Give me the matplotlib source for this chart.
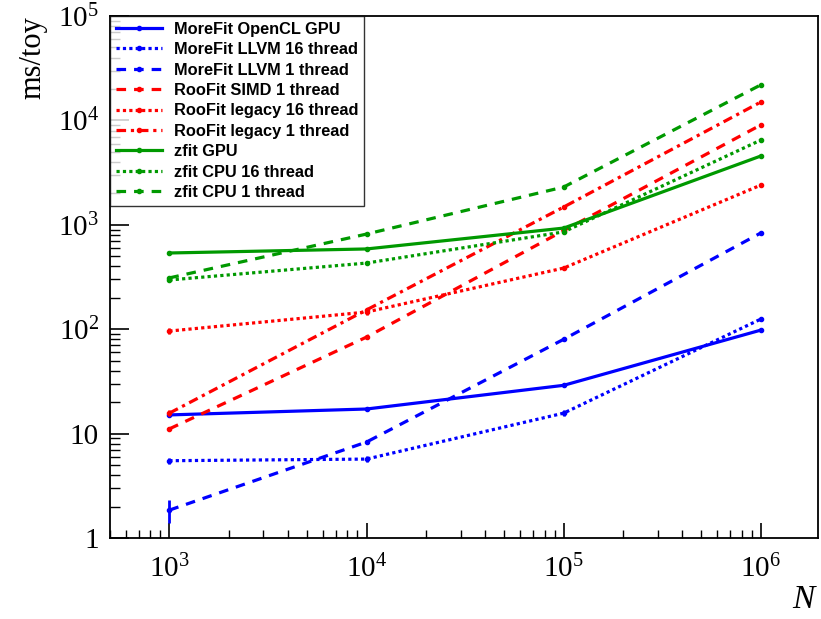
import numpy as np
import matplotlib
matplotlib.use("Agg")
from matplotlib import pyplot as plt
from matplotlib.ticker import LogLocator, FuncFormatter, NullFormatter

plt.rcParams['font.family'] = ['Liberation Serif', 'DejaVu Serif']
plt.rcParams['mathtext.fontset'] = 'custom'
plt.rcParams['mathtext.rm'] = 'Liberation Serif'
plt.rcParams['mathtext.it'] = 'Liberation Serif:italic'

# event counts
n_events = [1e3, 1e4, 1e5, 1e6]

# ms per toy
morefit_gpu = [15.1, 17.2, 29.0, 98.0]
morefit_llvm16 = [5.5, 5.7, 15.7, 125.0]
morefit_llvm1 = [1.85, 8.3, 80.0, 835.0]
roofit_simd1 = [11.1, 84.0, 880.0, 9040.0]
roofit_legacy16 = [96.0, 146.0, 385.0, 2400.0]
roofit_legacy1 = [15.7, 153.0, 1480.0, 15000.0]
zfit_gpu = [537.0, 587.0, 930.0, 4560.0]
zfit_cpu16 = [296.0, 430.0, 855.0, 6480.0]
zfit_cpu1 = [310.0, 815.0, 2300.0, 21900.0]

# small error bars visible at a few points
err_llvm16 = [0.4, 0.35, 1.0, 5.0]
err_llvm1 = [0.45, 0.4, 2.0, 10.0]
err_legacy16 = [6.0, 8.0, 10.0, 30.0]
err_legacy1 = [1.0, 5.0, 20.0, 100.0]

blue = '#0000ff'
red = '#ff0000'
green = '#009900'
lw = 2.3

series = [
    ('MoreFit OpenCL GPU', morefit_gpu, None, blue, '-'),
    ('MoreFit LLVM 16 thread', morefit_llvm16, err_llvm16, blue, (0, (1, 1))),
    ('MoreFit LLVM 1 thread', morefit_llvm1, err_llvm1, blue, (0, (3, 2.5))),
    ('RooFit SIMD 1 thread', roofit_simd1, None, red, (0, (3, 2.5))),
    ('RooFit legacy 16 thread', roofit_legacy16, err_legacy16, red, (0, (1, 1))),
    ('RooFit legacy 1 thread', roofit_legacy1, err_legacy1, red, (0, (3, 1.5, 1, 1.5))),
    ('zfit GPU', zfit_gpu, None, green, '-'),
    ('zfit CPU 16 thread', zfit_cpu16, None, green, (0, (1, 1))),
    ('zfit CPU 1 thread', zfit_cpu1, None, green, (0, (3, 2.5))),
]

fig = plt.figure(figsize=(8.21, 6.19), dpi=100)
ax = fig.add_axes([110 / 821, 81 / 619, 708 / 821, 522 / 619])

for label, vals, err, col, ls in series:
    ax.plot(n_events, vals, color=col, linestyle=ls, linewidth=lw,
            marker='o', markersize=3, label=label)
    if err is not None:
        ax.errorbar(n_events, vals, yerr=err, color=col, linestyle='none',
                    elinewidth=2, capsize=0)

ax.set_xscale('log')
ax.set_yscale('log')
ax.set_xlim(500, 1.95e6)
ax.set_ylim(1, 1e5)


def fmt(v, pos):
    e = int(round(np.log10(v)))
    if e == 0:
        return '1'
    if e == 1:
        return '10'
    return r'$10^{%d}$' % e


ax.xaxis.set_major_locator(LogLocator(base=10, numticks=20))
ax.yaxis.set_major_locator(LogLocator(base=10, numticks=20))
ax.xaxis.set_minor_locator(LogLocator(base=10, subs=np.arange(2, 10), numticks=20))
ax.yaxis.set_minor_locator(LogLocator(base=10, subs=np.arange(2, 10), numticks=20))
ax.xaxis.set_major_formatter(FuncFormatter(fmt))
ax.yaxis.set_major_formatter(FuncFormatter(fmt))
ax.xaxis.set_minor_formatter(NullFormatter())
ax.yaxis.set_minor_formatter(NullFormatter())

ax.tick_params(axis='x', which='major', direction='in', length=11, width=1.2, labelsize=21, pad=12)
ax.tick_params(axis='x', which='minor', direction='in', length=5.5, width=1.0)
ax.tick_params(axis='y', which='major', direction='in', length=14, width=1.2, labelsize=21, pad=8)
ax.tick_params(axis='y', which='minor', direction='in', length=7, width=1.0)
ax.tick_params(top=False, right=False, which='both')
for sp in ax.spines.values():
    sp.set_linewidth(1.3)

ax.set_ylabel('ms/toy', fontsize=22)
ax.yaxis.set_label_coords(-0.088, 1.0)
ax.yaxis.label.set_horizontalalignment('right')
ax.set_xlabel('$N$', fontsize=24)
ax.xaxis.set_label_coords(1.0, -0.09)
ax.xaxis.label.set_horizontalalignment('right')

leg = ax.legend(loc='upper left', bbox_to_anchor=(0.0, 1.0), frameon=True, fancybox=False,
                edgecolor='black', handlelength=2.8, handletextpad=0.75, labelspacing=0.33,
                borderaxespad=0.0, borderpad=0.35,
                prop={'family': 'Liberation Sans', 'weight': 'bold', 'size': 11.8})
leg.get_frame().set_linewidth(1.0)
for h in leg.get_lines():
    h.set_linewidth(lw)

fig.savefig('out.png', dpi=100)
